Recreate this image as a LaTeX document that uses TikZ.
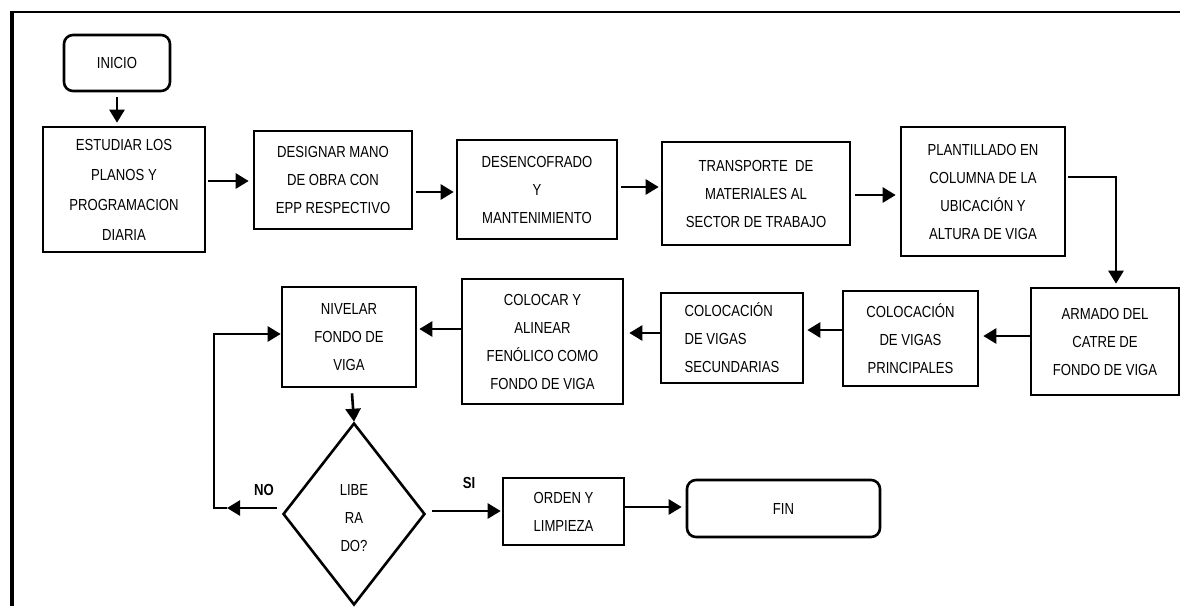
\documentclass[tikz,border=0pt]{standalone}
\usepackage{fontspec}
\setmainfont[FakeStretch=0.82]{Liberation Sans}
\usetikzlibrary{arrows.meta,shapes.geometric}
\begin{document}
\begin{tikzpicture}[x=1pt,y=-1pt,
  every node/.style={font=\fontsize{16}{28}\selectfont, align=center, inner sep=0pt},
  box/.style={draw, line width=2.6pt, rectangle},
  term/.style={draw, line width=2.6pt, rectangle, rounded corners=9pt},
  arr/.style={line width=2.6pt, -{Triangle[length=13pt,width=15pt]}},
  lbl/.style={font=\fontsize{16}{16}\selectfont\bfseries}]
\useasboundingbox (0,0) rectangle (1180,606);
% page frame
\draw[line width=2.6pt] (10,12) -- (1180,12);
\draw[line width=4.2pt] (12,11) -- (12,606);

% first row
\node[term, minimum width=106, minimum height=56] (inicio) at (117,63) {INICIO};
\node[box, minimum width=162, minimum height=125, font=\fontsize{16}{30}\selectfont] (estudiar) at (124,189.5) {ESTUDIAR LOS\\PLANOS Y\\PROGRAMACION\\DIARIA};
\node[box, minimum width=158, minimum height=98] (designar) at (333,180) {DESIGNAR MANO\\DE OBRA CON\\EPP RESPECTIVO};
\node[box, minimum width=160, minimum height=99] (desenc) at (537,189.5) {DESENCOFRADO\\Y\\MANTENIMIENTO};
\node[box, minimum width=188, minimum height=103] (transp) at (756,193.5) {TRANSPORTE \ DE\\MATERIALES AL\\SECTOR DE TRABAJO};
\node[box, minimum width=164, minimum height=129] (plant) at (983,191.5) {PLANTILLADO EN\\COLUMNA DE LA\\UBICACIÓN Y\\ALTURA DE VIGA};

% second row
\node[box, minimum width=148, minimum height=107] (armado) at (1105,341.5) {ARMADO DEL\\CATRE DE\\FONDO DE VIGA};
\node[box, minimum width=135, minimum height=95] (princ) at (910.5,338.5) {COLOCACIÓN\\DE VIGAS\\PRINCIPALES};
\node[box, minimum width=142, minimum height=90, align=left] (secund) at (732,338) {COLOCACIÓN\\DE VIGAS\\SECUNDARIAS};
\node[box, minimum width=161, minimum height=125] (colocar) at (542.5,341.5) {COLOCAR Y\\ALINEAR\\FENÓLICO COMO\\FONDO DE VIGA};
\node[box, minimum width=134, minimum height=100] (nivelar) at (349,337) {NIVELAR\\FONDO DE\\VIGA};

% decision and end
\node[diamond, draw, line width=2.6pt, minimum width=142, minimum height=182] (dec) at (354,514) {};
\node (dectext) at (354,518) {LIBE\\RA\\DO?};
\node[box, minimum width=121, minimum height=67] (orden) at (563.5,511.5) {ORDEN Y\\LIMPIEZA};
\node[term, minimum width=193, minimum height=57] (fin) at (783.5,508.5) {FIN};

\node[lbl] (nolbl) at (264,490) {NO};
\node[lbl] (silbl) at (469,483) {SI};

% connectors
\draw[arr] ([yshift=-5pt]inicio.south) -- ([yshift=3pt]estudiar.north -| inicio.south);
\draw[arr] (estudiar.east |- 0,181) ++(2,0) -- ([xshift=-4pt]designar.west |- 0,181);
\draw[arr] (designar.east |- 0,192) ++(3,0) -- ([xshift=-2pt]desenc.west |- 0,192);
\draw[arr] (desenc.east |- 0,187) ++(3,0) -- ([xshift=-2pt]transp.west |- 0,187);
\draw[arr] (transp.east |- 0,195) ++(4,0) -- ([xshift=-4pt]plant.west |- 0,195);
\coordinate (bend1) at (1116,177);
\draw[arr] (plant.east |- bend1) ++(2,0) -- (bend1) -- ([yshift=3pt]armado.north -| bend1);
\draw[arr] (armado.west |- 0,336) -- ([xshift=4pt]princ.east |- 0,336);
\draw[arr] (princ.west |- 0,330) -- ([xshift=3pt]secund.east |- 0,330);
\draw[arr] (secund.west |- 0,333) -- ([xshift=5pt]colocar.east |- 0,333);
\draw[arr] (colocar.west |- 0,329) -- ([xshift=2pt]nivelar.east |- 0,329);
\draw[arr] ([xshift=3pt,yshift=-5pt]nivelar.south) -- (dec.north);
\coordinate (nomid) at (227,508);
\coordinate (noturn) at (214,508);
\coordinate (notop) at (214,334);
\draw[arr] ([xshift=-5pt,yshift=6pt]dec.west) -- (nomid);
\draw[arr] (nomid) -- (noturn) -- (notop) -- (nivelar.west |- notop);
\draw[arr] ([xshift=6pt,yshift=3pt]dec.east) -- ([xshift=-1pt]orden.west |- 0,511);
\draw[arr] (orden.east |- 0,507) -- ([xshift=-4pt]fin.west |- 0,507);
\end{tikzpicture}
\end{document}
